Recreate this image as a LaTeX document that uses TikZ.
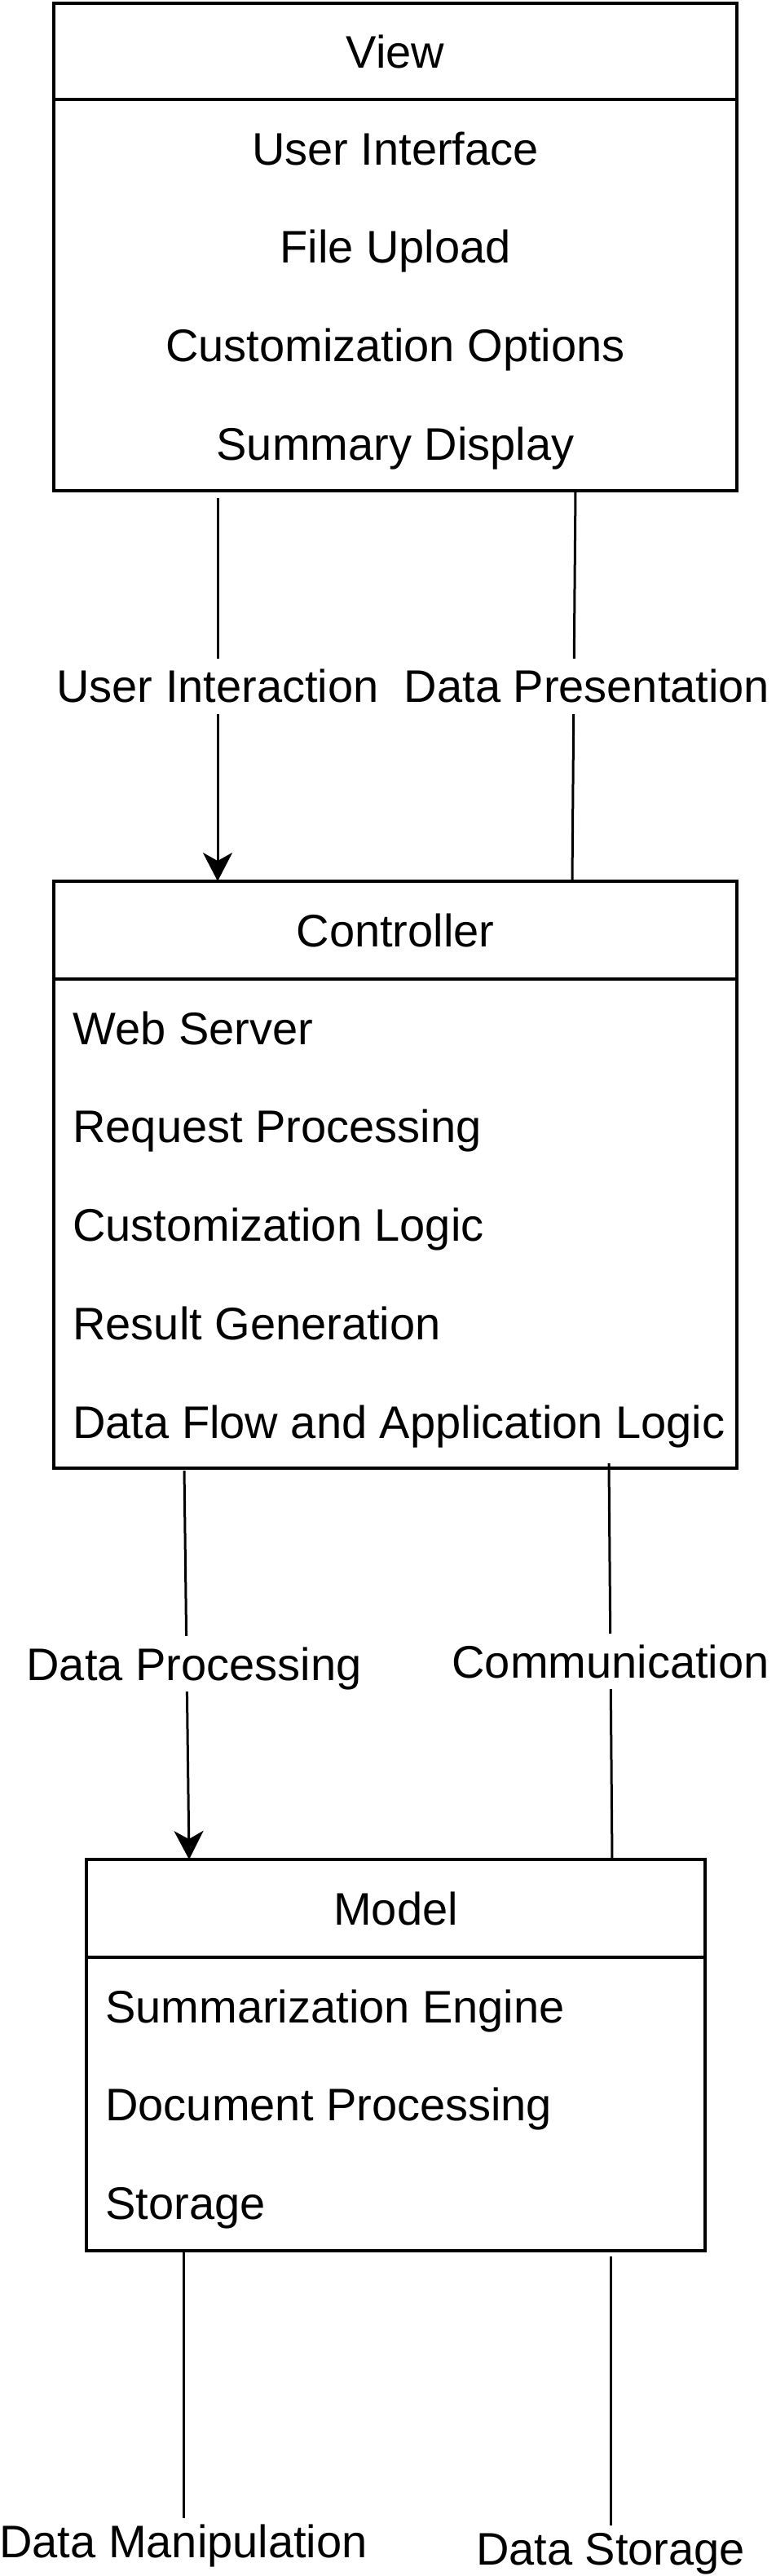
\documentclass[tikz,border=0pt]{standalone}
\usepackage{fontspec}
\setmainfont{Liberation Sans}
\usetikzlibrary{shapes,arrows.meta,positioning,calc}

\tikzset{
  box/.style={draw, line width=2pt, outer sep=0pt, inner sep=0pt, text height=20pt, text depth=0pt},
  item/.style={inner sep=0pt, text height=20pt, text depth=0pt},
  link/.style={line width=1.5pt},
  flow/.style={link, -{Stealth[length=17.5pt, width=18pt, inset=5pt]}},
  lab/.style={fill=white, inner xsep=2pt, inner ysep=7pt, text height=20pt, text depth=0pt}
}

\begin{document}
\begin{tikzpicture}[every node/.style={font=\fontsize{28pt}{34pt}\selectfont}]
  \useasboundingbox (0,0) rectangle (476pt,-1580pt);

  \node[box, minimum width=419pt, minimum height=59pt] (view) at (242.5pt,-31.5pt) {View};
  \node[box, minimum width=419pt, minimum height=240pt, below=0pt of view] (viewbody) {};
  \node[item] (ui) at ([yshift=-30pt]viewbody.north) {User Interface};
  \node[item, below=40pt of ui] (upload) {File Upload};
  \node[item, below=40pt of upload] (options) {Customization Options};
  \node[item, below=40pt of options] (summary) {Summary Display};

  \node[box, minimum width=419pt, minimum height=60pt] (ctrl) at (242.5pt,-570.5pt) {Controller};
  \node[box, minimum width=419pt, minimum height=300pt, below=0pt of ctrl] (ctrlbody) {};
  \node[item, anchor=west] (server) at ([xshift=11.5pt, yshift=-30pt]ctrlbody.north west) {Web Server};
  \node[item, below=40pt of server.south west, anchor=north west] (request) {Request Processing};
  \node[item, below=40pt of request.south west, anchor=north west] (logic) {Customization Logic};
  \node[item, below=40pt of logic.south west, anchor=north west] (result) {Result Generation};
  \node[item, below=40pt of result.south west, anchor=north west] (appflow) {Data Flow and Application Logic};

  \node[box, minimum width=379.5pt, minimum height=60pt] (model) at (242.75pt,-1170.5pt) {Model};
  \node[box, minimum width=379.5pt, minimum height=180pt, below=0pt of model] (modelbody) {};
  \node[item, anchor=west] (engine) at ([xshift=11.5pt, yshift=-30pt]modelbody.north west) {Summarization Engine};
  \node[item, below=40pt of engine.south west, anchor=north west] (docproc) {Document Processing};
  \node[item, below=40pt of docproc.south west, anchor=north west] (storage) {Storage};

  \node[item] (manip) at (112.5pt,-1558.5pt) {Data Manipulation};
  \node[item] (store) at (374.5pt,-1563pt) {Data Storage};

  \draw[flow, shorten <=4.5pt] ([xshift=-109pt]viewbody.south) -- node[lab] {User Interaction} ([xshift=-109pt]ctrl.north);
  \draw[link] ([xshift=110.5pt]viewbody.south) -- node[lab, xshift=8pt] {Data Presentation} ([xshift=108.5pt]ctrl.north);
  \draw[flow, shorten <=1.5pt] ([xshift=-129.5pt]ctrlbody.south) -- node[lab, xshift=4.5pt] {Data Processing} ([xshift=-126.75pt]model.north);
  \draw[link] ([xshift=131pt, yshift=3pt]ctrlbody.south) -- node[lab] {Communication} ([xshift=132.75pt]model.north);
  \draw[link] (modelbody.south -| manip) -- ([yshift=4pt]manip.north);
  \draw[link, shorten <=3.5pt] (modelbody.south -| store) -- ([yshift=4pt]store.north);
\end{tikzpicture}
\end{document}
